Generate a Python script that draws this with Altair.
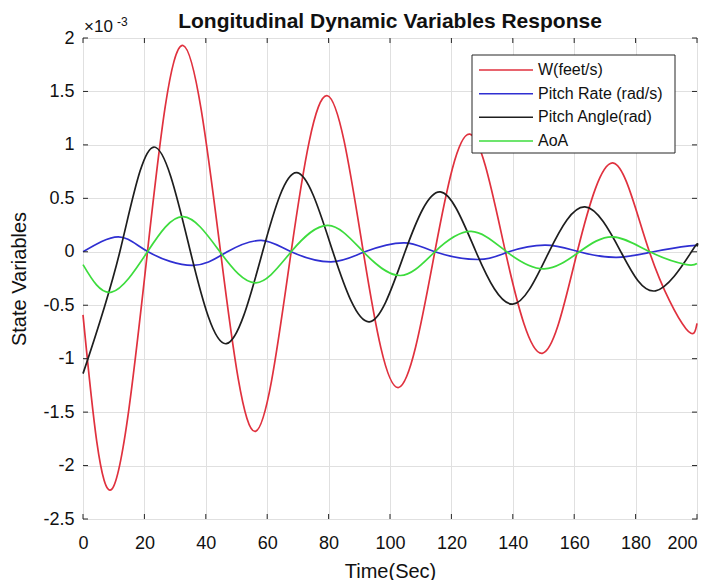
import altair as alt
import pandas as pd

# ---- data (values in units of 1e-3) ----
series_names = ["W(feet/s)", "Pitch Rate (rad/s)", "Pitch Angle(rad)", "AoA"]
series_colors = ["#e0313e", "#2f2fd2", "#1e1e1e", "#3ddc3d"]

t_w = [0, 9.4, 21.0, 32.6, 44.8, 56.2, 67.8, 79.6, 91.3, 102.8, 114.6, 126.0, 137.6, 149.6, 161.0, 172.8, 184.5, 196.4, 200]
v_w = [-0.59, -2.22, 0, 1.93, 0, -1.68, 0, 1.46, 0, -1.27, 0, 1.10, 0, -0.95, 0, 0.83, 0, -0.72, -0.67]

t_q = [0, 11.5, 21.2, 35.8, 47.0, 58.0, 67.8, 80.8, 91.8, 104.7, 114.6, 129.0, 138.7, 150.7, 161.6, 173.8, 185.8, 197.5, 200]
v_q = [0, 0.14, 0, -0.128, 0, 0.106, 0, -0.094, 0, 0.084, 0, -0.072, 0, 0.063, 0, -0.052, 0, 0.055, 0.054]

t_th = [0, 12.0, 23.1, 35.0, 46.7, 58.5, 69.7, 81.4, 93.3, 104.9, 116.4, 128.0, 140.0, 151.8, 163.5, 175.2, 186.5, 198.2, 200]
v_th = [-1.14, 0, 0.98, 0, -0.86, 0, 0.74, 0, -0.655, 0, 0.56, 0, -0.49, 0, 0.42, 0, -0.365, 0, 0.05]

t_a = [0, 9.3, 21.0, 32.6, 44.6, 56.3, 67.8, 79.8, 91.3, 103.4, 114.6, 126.4, 138.0, 150.2, 161.7, 172.6, 184.6, 196.2, 200]
v_a = [-0.12, -0.378, 0, 0.328, 0, -0.29, 0, 0.247, 0, -0.222, 0, 0.19, 0, -0.16, 0, 0.14, 0, -0.118, -0.11]

x_ticks = [0, 20, 40, 60, 80, 100, 120, 140, 160, 180, 200]
y_ticks = [-2.5, -2, -1.5, -1, -0.5, 0, 0.5, 1, 1.5, 2]

title_text = "Longitudinal Dynamic Variables Response"
exp_text = "×10"
exp_power = "-3"

rows = []
for name, ts, vs in zip(series_names, [t_w, t_q, t_th, t_a], [v_w, v_q, v_th, v_a]):
    for a, b in zip(ts, vs):
        rows.append({"series": name, "t": a, "v": b})
df = pd.DataFrame(rows)
df_xt = pd.DataFrame({"t": x_ticks})
df_yt = pd.DataFrame({"v": y_ticks})
df_leg = pd.DataFrame({"series": series_names, "row": list(range(len(series_names)))})

W, H = 614, 481
FONT = "Liberation Sans"
AX = "#262626"
TXT = "#111111"

color_scale = alt.Scale(domain=series_names, range=series_colors)

x_enc = alt.X("t:Q", scale=alt.Scale(domain=[0, 200], nice=False, zero=False),
              axis=alt.Axis(values=x_ticks, title="Time(Sec)", grid=True, ticks=False, tickSize=0,
                            domain=False, labelPadding=15, titlePadding=9, labelFontSize=18,
                            titleFontSize=20, titleFontWeight="normal", labelFont=FONT, titleFont=FONT,
                            labelColor=TXT, titleColor=TXT, gridColor="#e0e0e0", labelFlush=False,
                            labelAlign=alt.condition("datum.value == 200", alt.value("right"), alt.value("center")),
                            labelExpr="'' + datum.value"))
y_enc = alt.Y("v:Q", scale=alt.Scale(domain=[-2.5, 2], nice=False, zero=False),
              axis=alt.Axis(values=y_ticks, title="State Variables", grid=True, ticks=False, tickSize=0,
                            domain=False, labelPadding=9, titlePadding=13, labelFontSize=18,
                            titleFontSize=20, titleFontWeight="normal", labelFont=FONT, titleFont=FONT,
                            labelColor=TXT, titleColor=TXT, gridColor="#e0e0e0", labelFlush=False,
                            labelExpr="'' + datum.value"))

lines = alt.Chart(df).mark_line(interpolate="natural", strokeWidth=1.7).encode(
    x=x_enc, y=y_enc,
    color=alt.Color("series:N", scale=color_scale, legend=None),
)

tick_bottom = alt.Chart(df_xt).mark_rule(color=AX).encode(x=x_enc, y=alt.value(H), y2=alt.value(H - 5))
tick_top = alt.Chart(df_xt).mark_rule(color=AX).encode(x=x_enc, y=alt.value(0), y2=alt.value(5))
tick_left = alt.Chart(df_yt).mark_rule(color=AX).encode(y=y_enc, x=alt.value(0), x2=alt.value(5))
tick_right = alt.Chart(df_yt).mark_rule(color=AX).encode(y=y_enc, x=alt.value(W), x2=alt.value(W - 5))

main = alt.layer(lines, tick_bottom, tick_top, tick_left, tick_right)

# ---- legend box (MATLAB style), title and exponent label ----
one = pd.DataFrame({"k": [0]})
leg_y = alt.Y("row:Q", scale=alt.Scale(domain=[0, 3], range=[32, 103]), axis=None)

leg_box = alt.Chart(one).mark_rect(fill="white", stroke=AX, strokeWidth=1).encode(
    x=alt.value(389), x2=alt.value(592), y=alt.value(17), y2=alt.value(115))
leg_lines = alt.Chart(df_leg).mark_rule(strokeWidth=1.5).encode(
    y=leg_y, x=alt.value(396), x2=alt.value(450),
    color=alt.Color("series:N", scale=color_scale, legend=None))
leg_text = alt.Chart(df_leg).mark_text(font=FONT, fontSize=16, align="left", baseline="middle",
                                       color=TXT).encode(y=leg_y, x=alt.value(455), text="series:N")

title = alt.Chart(pd.DataFrame({"s": [title_text]})).mark_text(
    font=FONT, fontSize=21, fontWeight="bold", align="center", baseline="alphabetic", color=TXT).encode(
    text="s:N", x=alt.value(W / 2), y=alt.value(-10.5))
exp_base = alt.Chart(pd.DataFrame({"s": [exp_text]})).mark_text(
    font=FONT, fontSize=17, align="left", baseline="alphabetic", color=TXT).encode(
    text="s:N", x=alt.value(1), y=alt.value(-6))
exp_sup = alt.Chart(pd.DataFrame({"s": [exp_power]})).mark_text(
    font=FONT, fontSize=12, align="left", baseline="alphabetic", color=TXT).encode(
    text="s:N", x=alt.value(34), y=alt.value(-12))

overlay = alt.layer(leg_box, leg_lines, leg_text, title, exp_base, exp_sup)

chart = alt.layer(main, overlay).resolve_scale(y="independent").properties(
    width=W, height=H,
    autosize=alt.AutoSizeParams(type="none"),
    padding={"left": 75, "top": 30, "right": 4, "bottom": 61},
).configure_view(stroke=AX, strokeWidth=1)

chart.save("out.html", embed_options={"renderer": "svg", "actions": False})
